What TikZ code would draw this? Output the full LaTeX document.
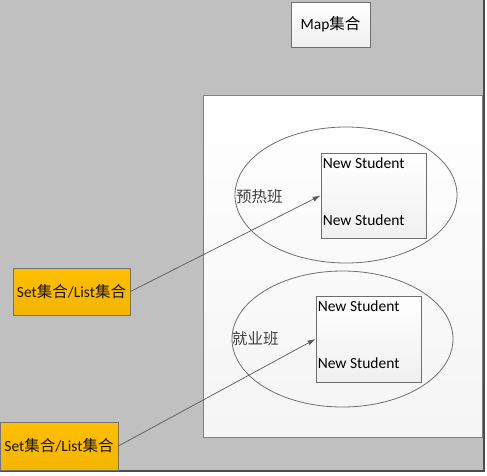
\documentclass[tikz,border=0pt]{standalone}
\usepackage{fontspec}
\setmainfont{Carlito}
\newfontfamily\cjk{Noto Sans CJK SC}
\usetikzlibrary{shapes.geometric,arrows.meta}

\definecolor{canvasgray}{HTML}{C0C0C0}
\definecolor{edgegray}{HTML}{6E6E6E}
\definecolor{setorange}{HTML}{FFC000}
\definecolor{setorangedark}{HTML}{F2B400}

\tikzset{
    every node/.style={font=\fontsize{15.5}{18}\selectfont, inner sep=0pt},
    plainbox/.style={draw=edgegray, line width=0.8pt, top color=white, bottom color=black!6},
    setbox/.style={draw=black!55, line width=0.8pt, top color=setorange, bottom color=setorangedark,
        text=black!85!brown, minimum width=117pt, minimum height=47pt},
    classring/.style={ellipse, draw=edgegray, line width=0.8pt},
    stuname/.style={anchor=west, text=black},
    classname/.style={anchor=west, text=black!75},
    link/.style={draw=black!65, line width=0.7pt, -{Latex[length=8pt,width=5pt]}}
}

\begin{document}
\begin{tikzpicture}[x=1pt,y=-1pt]
\useasboundingbox (0,0) rectangle (487,475);
\fill[white] (0,0) rectangle (487,475);
\fill[canvasgray] (0,0) rectangle (484,471);
\draw[black!70, line width=1.2pt] (0,471) -- (484,471) -- (484,0);

% map
\node[plainbox, minimum width=79pt, minimum height=45pt] (map) at (330.5,24.5) {Map{\cjk 集合}};
\node[plainbox, draw=black!50, top color=white, bottom color=black!4,
    minimum width=279pt, minimum height=342pt] (mapbody) at (342.5,266) {};

% classes
\node[classring, minimum width=222pt, minimum height=136pt] (ring1) at (346,195) {};
\node[classring, minimum width=221pt, minimum height=136pt] (ring2) at (342.5,339) {};
\node[classname] (cls1) at (236,197) {\cjk 预热班};
\node[classname] (cls2) at (232,339) {\cjk 就业班};

% students
\node[plainbox, minimum width=105pt, minimum height=85pt] (in1) at (373.5,195.5) {};
\node[plainbox, minimum width=105pt, minimum height=86pt] (in2) at (368.5,339) {};
\node[stuname] (stu1a) at ([xshift=2pt,yshift=-11pt]in1.north west) {New Student};
\node[stuname] (stu1b) at ([xshift=2pt,yshift=18pt]in1.south west) {New Student};
\node[stuname] (stu2a) at ([xshift=2pt,yshift=-11pt]in2.north west) {New Student};
\node[stuname] (stu2b) at ([xshift=2pt,yshift=19pt]in2.south west) {New Student};

% sets
\node[setbox] (set1) at (71.5,291.5) {Set{\cjk 集合}/List{\cjk 集合}};
\node[setbox, minimum width=118pt, minimum height=48pt] (set2) at (59,446) {Set{\cjk 集合}/List{\cjk 集合}};

\draw[link] (set1.east) -- (in1.west);
\draw[link] (set2.east) -- (in2.west);
\end{tikzpicture}
\end{document}
